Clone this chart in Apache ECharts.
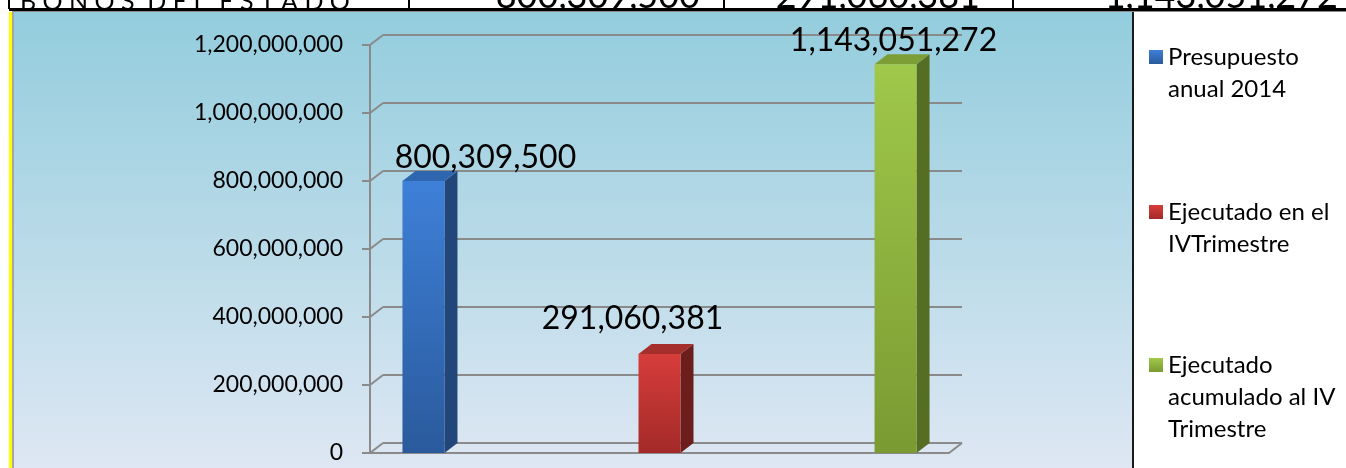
<!DOCTYPE html>
<html>
<head>
<meta charset="utf-8">
<script src="https://cdn.jsdelivr.net/npm/echarts@6.0.0/dist/echarts.min.js"></script>
<style>
html, body { margin: 0; padding: 0; background: #fff; }
#chart { width: 1346px; height: 468px; }
</style>
</head>
<body>
<div id="chart"></div>
<script>
// data
var categories = ['BONOS DEL ESTADO'];
var headerLabel = 'B O N O S  D E L  E S T A D O';
var seriesNames = ['Presupuesto anual 2014', 'Ejecutado en el IVTrimestre', 'Ejecutado acumulado al IV Trimestre'];
var legendLines = [['Presupuesto', 'anual 2014'], ['Ejecutado en el', 'IVTrimestre'], ['Ejecutado', 'acumulado al IV', 'Trimestre']];
var values = [800309500, 291060381, 1143051272];
var yTicks = [0, 200000000, 400000000, 600000000, 800000000, 1000000000, 1200000000];

var FONT = 'Lato';
var BAR_W = 42, BAR_GAP = 4.62;   // gap between bars, as a multiple of bar width
var DX = 13, DY = -10;            // depth of the 3d look
var LINE = '#8a8a8a';
var LH = 32;                      // legend line height
var LABEL_SHIFT = [[62, -2], [-27, -14], [-2, -3]];
var LEGEND_TOP = [57, 212, 365];  // centre of first legend line

var colors = [
  { front: ['#3e80d8', '#2a5a9c'], side: '#22467a', top: '#2f66b0' },
  { front: ['#d63d3b', '#a32a28'], side: '#6c1e1d', top: '#a52f2d' },
  { front: ['#a0c84a', '#7a9a32'], side: '#566e24', top: '#7d9d36' }
];

function fmt(v) {
  return String(v).replace(/\B(?=(\d{3})+(?!\d))/g, ',');
}

var myChart = echarts.init(document.getElementById('chart'));

var series = values.map(function (v, i) {
  var c = colors[i];
  return {
    name: seriesNames[i],
    type: 'bar',
    xAxisIndex: 0,
    yAxisIndex: 0,
    barWidth: BAR_W,
    barGap: (BAR_GAP * 100) + '%',
    data: [v],
    z: 3,
    itemStyle: {
      color: new echarts.graphic.LinearGradient(0, 0, 0, 1, [
        { offset: 0, color: c.front[0] },
        { offset: 1, color: c.front[1] }
      ])
    },
    label: {
      show: true,
      position: 'top',
      distance: 5,
      offset: LABEL_SHIFT[i],
      formatter: function (p) { return fmt(p.value); },
      fontFamily: FONT,
      fontSize: 32,
      color: '#000'
    }
  };
});

// side and top faces of the bars
series.push({
  type: 'custom',
  xAxisIndex: 0,
  yAxisIndex: 0,
  silent: true,
  z: 3,
  data: values.map(function (v, i) { return [0, v, i]; }),
  encode: { x: 0, y: 1 },
  renderItem: function (params, api) {
    var i = api.value(2);
    var top = api.coord([api.value(0), api.value(1)]);
    var base = api.coord([api.value(0), 0]);
    var cx = top[0] + (i - 1) * BAR_W * (1 + BAR_GAP);
    var l = cx - BAR_W / 2, r = cx + BAR_W / 2, t = top[1], b = base[1];
    return {
      type: 'group',
      children: [
        { type: 'polygon', shape: { points: [[r, t], [r + DX, t + DY], [r + DX, b + DY], [r, b]] }, style: { fill: colors[i].side } },
        { type: 'polygon', shape: { points: [[l, t], [l + DX, t + DY], [r + DX, t + DY], [r, t]] }, style: { fill: colors[i].top } }
      ]
    };
  }
});

// little diagonals joining the front axis to the back wall
series.push({
  type: 'custom',
  xAxisIndex: 0,
  yAxisIndex: 0,
  silent: true,
  z: 1,
  data: yTicks.map(function (v) { return [0, v]; }),
  encode: { x: 0, y: 1 },
  renderItem: function (params, api) {
    var rect = params.coordSys;
    var y = api.coord([0, api.value(1)])[1];
    var st = { stroke: LINE, lineWidth: 2, fill: null };
    var kids = [{ type: 'line', shape: { x1: rect.x, y1: y, x2: rect.x + DX, y2: y + DY }, style: st }];
    if (api.value(1) === yTicks[0]) {
      kids.push({ type: 'line', shape: { x1: rect.x + rect.width, y1: y, x2: rect.x + rect.width + DX, y2: y + DY }, style: st });
    }
    return { type: 'group', children: kids };
  }
});

// one legend per entry; blank lines in front keep the icon beside the first line
var legends = legendLines.map(function (lines, i) {
  var n = lines.length;
  var blank = new Array(n).join('\n');
  return {
    orient: 'vertical',
    left: 1149,
    top: LEGEND_TOP[i] - (2 * n - 1) * LH / 2,
    padding: 0,
    icon: 'rect',
    itemWidth: 14,
    itemHeight: 14,
    selectedMode: false,
    data: [seriesNames[i]],
    formatter: function () { return blank + lines.join('\n'); },
    textStyle: { fontFamily: FONT, fontSize: 24, lineHeight: LH, color: '#000' }
  };
});

var graphics = [
  { type: 'rect', z: -300, silent: true, shape: { x: 0, y: 0, width: 1346, height: 468 }, style: { fill: '#fff' } },
  { type: 'text', z: -250, silent: true, style: { text: headerLabel, x: 20, y: 14, align: 'left', verticalAlign: 'bottom', font: '25px Lato', fill: '#000' } },
  { type: 'text', z: -250, silent: true, style: { text: fmt(values[0]), x: 700, y: 14, align: 'right', verticalAlign: 'bottom', font: '36px Lato', fill: '#000' } },
  { type: 'text', z: -250, silent: true, style: { text: fmt(values[1]), x: 980, y: 14, align: 'right', verticalAlign: 'bottom', font: '36px Lato', fill: '#000' } },
  { type: 'text', z: -250, silent: true, style: { text: fmt(values[2]), x: 1338, y: 14, align: 'right', verticalAlign: 'bottom', font: '36px Lato', fill: '#000' } },
  { type: 'rect', z: -200, silent: true, shape: { x: 0, y: 8, width: 1346, height: 460 }, style: { fill: '#fff' } },
  {
    type: 'rect', z: -100, silent: true,
    shape: { x: 14, y: 12, width: 1119, height: 456 },
    style: {
      fill: new echarts.graphic.LinearGradient(0, 0, 0, 1, [
        { offset: 0, color: '#93cddd' },
        { offset: 1, color: '#dee7f3' }
      ])
    }
  },
  { type: 'rect', z: -90, silent: true, shape: { x: 9, y: 12, width: 3, height: 456 }, style: { fill: '#ffff00' } },
  { type: 'rect', z: -90, silent: true, shape: { x: 12, y: 12, width: 2, height: 456 }, style: { fill: '#a6a6a6' } },
  { type: 'rect', z: -90, silent: true, shape: { x: 9, y: 8, width: 1337, height: 3 }, style: { fill: '#000' } },
  { type: 'rect', z: -90, silent: true, shape: { x: 12, y: 11, width: 1334, height: 1 }, style: { fill: '#8c8c8c' } },
  { type: 'rect', z: -90, silent: true, shape: { x: 8, y: 0, width: 2, height: 9 }, style: { fill: '#000' } },
  { type: 'rect', z: -90, silent: true, shape: { x: 408, y: 0, width: 2, height: 9 }, style: { fill: '#000' } },
  { type: 'rect', z: -90, silent: true, shape: { x: 723, y: 0, width: 2, height: 9 }, style: { fill: '#000' } },
  { type: 'rect', z: -90, silent: true, shape: { x: 1012, y: 0, width: 2, height: 9 }, style: { fill: '#000' } },
  { type: 'rect', z: -90, silent: true, shape: { x: 1132, y: 12, width: 2, height: 456 }, style: { fill: '#1a1a1a' } }
];

var option = {
  animation: false,
  graphic: graphics,
  legend: legends,
  grid: [
    { left: 370, right: 397, top: 45, bottom: 15 },
    { left: 370 + DX, right: 397 - DX, top: 45 + DY, bottom: 15 - DY }
  ],
  xAxis: [
    {
      gridIndex: 0,
      type: 'category',
      data: categories,
      axisLine: { show: true, lineStyle: { color: LINE, width: 2 } },
      axisTick: { show: false },
      axisLabel: { show: false }
    },
    { gridIndex: 1, type: 'category', data: categories, show: false }
  ],
  yAxis: [
    {
      gridIndex: 0,
      type: 'value',
      min: yTicks[0],
      max: yTicks[yTicks.length - 1],
      interval: yTicks[1] - yTicks[0],
      axisLine: { show: true, lineStyle: { color: LINE, width: 2 } },
      axisTick: { show: true, length: 8, lineStyle: { color: LINE, width: 2 } },
      axisLabel: { fontFamily: FONT, fontSize: 23, color: '#000', margin: 27, formatter: fmt },
      splitLine: { show: false }
    },
    {
      gridIndex: 1,
      type: 'value',
      min: yTicks[0],
      max: yTicks[yTicks.length - 1],
      interval: yTicks[1] - yTicks[0],
      axisLine: { show: false },
      axisTick: { show: false },
      axisLabel: { show: false },
      splitLine: { show: true, lineStyle: { color: LINE, width: 2 } }
    }
  ],
  series: series
};

myChart.setOption(option);
</script>
</body>
</html>
